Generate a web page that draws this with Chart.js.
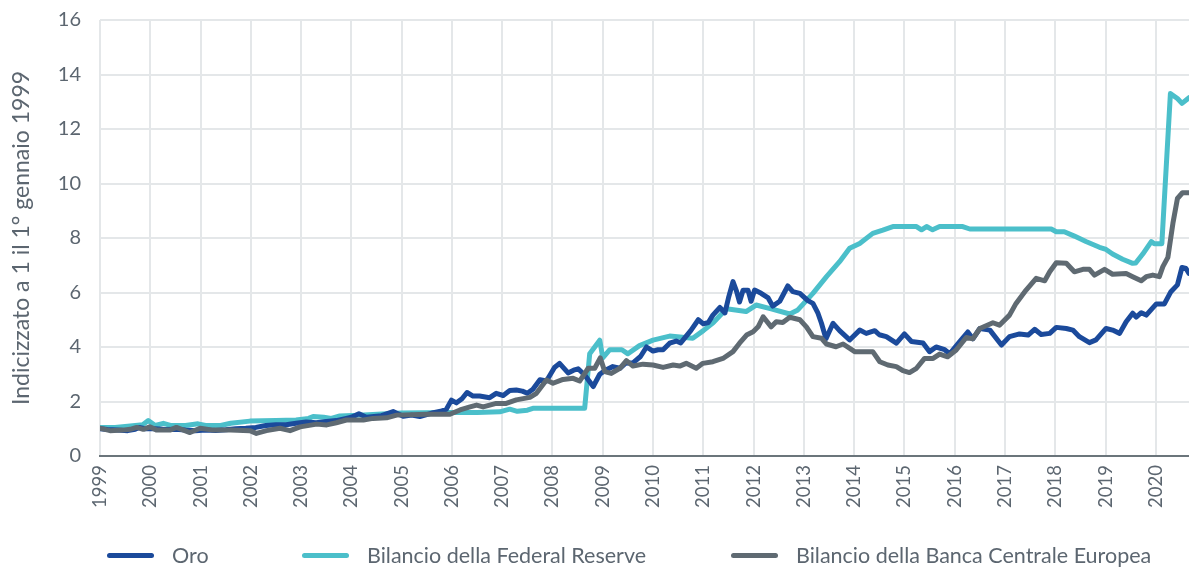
<!DOCTYPE html>
<html>
<head>
<meta charset="utf-8">
<script src="https://cdn.jsdelivr.net/npm/chart.js@4.4.1/dist/chart.umd.min.js"></script>
<style>
  html, body { margin: 0; padding: 0; background: #fff; }
  .wrap { position: relative; width: 1189px; height: 568px; font-family: Lato, 'Noto Sans', sans-serif; }
  .legend-item { position: absolute; top: 542px; display: flex; align-items: center; color: #5c6670; font-size: 21.5px; white-space: nowrap; }
  .legend-item .swatch { width: 47px; height: 5px; border-radius: 3px; margin-right: 18px; }
</style>
</head>
<body>
<div class="wrap">
  <canvas id="chart" width="1189" height="568"></canvas>
  <div id="legend"></div>
</div>
<script>
// anni delle etichette dell'asse x
const years = [1999,2000,2001,2002,2003,2004,2005,2006,2007,2008,2009,2010,2011,2012,2013,2014,2015,2016,2017,2018,2019,2020]

// Oro
const oroX = [1999.0,1999.15,1999.35,1999.55,1999.7,1999.78,1999.9,2000.1,2000.3,2000.5,2000.7,2000.9,2001.1,2001.3,2001.5,2001.7,2001.9,2002.1,2002.3,2002.5,2002.7,2002.9,2003.1,2003.3,2003.5,2003.7,2003.9,2004.0,2004.15,2004.3,2004.45,2004.6,2004.83,2005.03,2005.2,2005.36,2005.5,2005.63,2005.8,2005.89,2005.99,2006.09,2006.2,2006.3,2006.42,2006.55,2006.75,2006.88,2007.02,2007.15,2007.28,2007.4,2007.5,2007.61,2007.75,2007.88,2008.04,2008.14,2008.31,2008.42,2008.51,2008.64,2008.81,2008.94,2009.05,2009.2,2009.34,2009.45,2009.6,2009.75,2009.87,2010.0,2010.1,2010.2,2010.33,2010.46,2010.55,2010.66,2010.75,2010.9,2011.0,2011.1,2011.19,2011.33,2011.43,2011.5,2011.59,2011.66,2011.72,2011.79,2011.89,2011.95,2012.02,2012.15,2012.29,2012.38,2012.52,2012.68,2012.78,2012.92,2013.08,2013.18,2013.28,2013.35,2013.44,2013.58,2013.71,2013.91,2014.11,2014.24,2014.41,2014.5,2014.64,2014.84,2015.0,2015.14,2015.37,2015.5,2015.63,2015.8,2015.9,2016.1,2016.26,2016.36,2016.5,2016.7,2016.93,2017.09,2017.29,2017.46,2017.59,2017.72,2017.89,2018.02,2018.22,2018.35,2018.48,2018.68,2018.81,2019.01,2019.14,2019.28,2019.41,2019.54,2019.61,2019.71,2019.81,2020.01,2020.17,2020.3,2020.43,2020.52,2020.6,2020.66]
const oroY = [1.0,0.97,0.95,0.93,0.98,1.05,1.0,1.0,0.97,0.98,0.95,0.93,0.95,0.94,0.96,1.0,1.02,1.05,1.12,1.15,1.15,1.2,1.25,1.22,1.27,1.3,1.38,1.42,1.55,1.42,1.45,1.48,1.63,1.46,1.5,1.45,1.52,1.59,1.65,1.72,2.05,1.95,2.1,2.33,2.2,2.2,2.14,2.3,2.22,2.4,2.42,2.38,2.3,2.45,2.8,2.75,3.25,3.4,3.05,3.15,3.2,2.97,2.55,3.0,3.15,3.28,3.22,3.4,3.42,3.65,4.0,3.85,3.9,3.9,4.14,4.22,4.15,4.4,4.6,5.0,4.85,4.9,5.17,5.45,5.25,5.8,6.4,6.05,5.65,6.08,6.08,5.68,6.09,5.97,5.8,5.5,5.68,6.24,6.03,5.97,5.7,5.6,5.24,4.87,4.3,4.87,4.6,4.26,4.62,4.5,4.6,4.45,4.38,4.14,4.48,4.2,4.15,3.83,4.0,3.9,3.75,4.2,4.55,4.3,4.68,4.62,4.07,4.38,4.48,4.44,4.65,4.46,4.5,4.72,4.68,4.62,4.38,4.16,4.26,4.68,4.62,4.5,4.93,5.24,5.1,5.26,5.17,5.58,5.58,6.03,6.28,6.92,6.88,6.7]

// Bilancio della Federal Reserve
const fedX = [1999.0,1999.3,1999.6,1999.85,1999.96,2000.1,2000.26,2000.4,2000.7,2000.95,2001.1,2001.4,2001.6,2001.98,2002.5,2002.9,2003.15,2003.24,2003.45,2003.6,2003.77,2004.15,2004.7,2005.0,2005.9,2006.5,2006.95,2007.15,2007.3,2007.5,2007.61,2008.64,2008.74,2008.94,2009.0,2009.14,2009.38,2009.5,2009.73,2010.0,2010.33,2010.79,2011.0,2011.2,2011.46,2011.85,2012.05,2012.35,2012.72,2012.88,2013.18,2013.45,2013.71,2013.91,2014.11,2014.37,2014.57,2014.77,2015.24,2015.34,2015.44,2015.56,2015.7,2016.16,2016.3,2017.92,2018.02,2018.18,2018.38,2018.61,2018.88,2019.01,2019.14,2019.34,2019.54,2019.6,2019.74,2019.91,2019.97,2020.12,2020.29,2020.43,2020.52,2020.66]
const fedY = [1.05,1.05,1.1,1.15,1.3,1.12,1.2,1.12,1.12,1.18,1.12,1.12,1.2,1.28,1.3,1.32,1.38,1.45,1.42,1.38,1.47,1.5,1.55,1.58,1.6,1.6,1.62,1.72,1.64,1.68,1.75,1.75,3.75,4.25,3.6,3.9,3.9,3.75,4.05,4.25,4.4,4.32,4.6,4.9,5.4,5.3,5.54,5.4,5.21,5.36,5.97,6.58,7.13,7.62,7.8,8.17,8.29,8.42,8.42,8.3,8.42,8.3,8.42,8.42,8.33,8.33,8.23,8.23,8.07,7.87,7.66,7.58,7.41,7.22,7.07,7.08,7.41,7.87,7.79,7.79,13.3,13.12,12.94,13.15]

// Bilancio della Banca Centrale Europea
const bceX = [1999.0,1999.2,1999.45,1999.6,1999.73,1999.86,1999.99,2000.13,2000.39,2000.52,2000.79,2000.99,2001.25,2001.6,2001.98,2002.11,2002.31,2002.58,2002.78,2002.98,2003.31,2003.51,2003.7,2003.9,2004.24,2004.43,2004.7,2004.9,2005.5,2005.96,2006.16,2006.36,2006.49,2006.62,2006.88,2007.08,2007.28,2007.55,2007.68,2007.88,2008.01,2008.21,2008.41,2008.54,2008.71,2008.84,2008.95,2009.04,2009.17,2009.34,2009.47,2009.6,2009.8,2010.0,2010.2,2010.4,2010.53,2010.66,2010.86,2010.99,2011.19,2011.39,2011.59,2011.72,2011.86,2011.99,2012.09,2012.19,2012.35,2012.45,2012.58,2012.72,2012.92,2013.05,2013.18,2013.35,2013.45,2013.64,2013.78,2014.01,2014.37,2014.51,2014.67,2014.84,2014.97,2015.1,2015.24,2015.4,2015.57,2015.7,2015.86,2016.03,2016.23,2016.36,2016.5,2016.76,2016.89,2017.09,2017.22,2017.42,2017.62,2017.79,2017.89,2018.02,2018.22,2018.38,2018.55,2018.68,2018.78,2018.98,2019.14,2019.41,2019.54,2019.71,2019.81,2019.94,2020.07,2020.14,2020.24,2020.34,2020.43,2020.53,2020.66]
const bceY = [1.02,0.93,0.95,0.98,1.05,0.98,1.07,0.95,0.95,1.05,0.86,1.02,0.95,0.95,0.93,0.83,0.93,1.02,0.93,1.07,1.17,1.14,1.22,1.32,1.32,1.38,1.4,1.5,1.53,1.53,1.69,1.8,1.87,1.8,1.93,1.93,2.06,2.15,2.3,2.79,2.67,2.81,2.85,2.75,3.22,3.22,3.6,3.1,3.03,3.22,3.5,3.3,3.37,3.34,3.25,3.34,3.3,3.4,3.22,3.4,3.46,3.58,3.83,4.14,4.44,4.56,4.74,5.11,4.74,4.93,4.9,5.09,5.0,4.74,4.38,4.32,4.11,4.01,4.11,3.83,3.83,3.46,3.34,3.28,3.13,3.06,3.22,3.58,3.58,3.74,3.64,3.89,4.35,4.3,4.68,4.89,4.8,5.17,5.6,6.09,6.52,6.43,6.76,7.09,7.07,6.76,6.85,6.85,6.64,6.85,6.67,6.7,6.58,6.43,6.58,6.64,6.58,6.95,7.29,8.54,9.45,9.66,9.66]

const series = [
  { label: 'Oro', xs: oroX, ys: oroY, color: '#1b4a9b', order: 1, left: 107 },
  { label: 'Bilancio della Federal Reserve', xs: fedX, ys: fedY, color: '#4bbfca', order: 2, left: 302 },
  { label: 'Bilancio della Banca Centrale Europea', xs: bceX, ys: bceY, color: '#5f6a72', order: 0, left: 731 },
]

const textColor = '#5c6670'
const gridColor = '#e4e7e9'

new Chart(document.getElementById('chart').getContext('2d'), {
  type: 'line',
  data: {
    datasets: series.map(s => ({
      label: s.label,
      data: s.xs.map((x, i) => ({ x, y: s.ys[i] })),
      borderColor: s.color,
      borderWidth: 5,
      pointRadius: 0,
      tension: 0,
      borderJoinStyle: 'round',
      borderCapStyle: 'round',
      order: s.order,
    }))
  },
  options: {
    responsive: false,
    animation: false,
    layout: { padding: { top: 20, right: 0, bottom: 52, left: 0 } },
    plugins: { legend: { display: false }, tooltip: { enabled: false } },
    scales: {
      x: {
        type: 'linear',
        min: 1999, max: 2020.66,
        afterBuildTicks: scale => { scale.ticks = years.map(v => ({ value: v })) },
        afterFit: scale => { scale.height = 60 },
        ticks: { color: textColor, font: { family: 'Lato', size: 18.5 }, padding: 9, minRotation: 90, maxRotation: 90, callback: v => String(v) },
        grid: { color: gridColor, lineWidth: 2, drawTicks: false },
        border: { color: '#6b757b', width: 2 },
      },
      y: {
        min: 0, max: 16,
        // larghezza fissa, senza il margine extra sopra l'etichetta "16"
        afterFit: scale => { scale.width = 100; scale.paddingTop = 0; scale.paddingBottom = 0 },
        ticks: { stepSize: 2, color: textColor, font: { family: 'Lato', size: 20 }, padding: 19 },
        grid: { color: gridColor, lineWidth: 2, drawTicks: false },
        border: { display: false },
        title: { display: true, text: 'Indicizzato a 1 il 1° gennaio 1999', color: textColor, font: { family: 'Lato', size: 23 }, padding: { top: 8, bottom: 0 } },
      }
    }
  }
})

document.getElementById('legend').innerHTML = series.map(s => `
  <div class="legend-item" style="left:${s.left}px">
    <div class="swatch" style="background:${s.color}"></div>
    <span>${s.label}</span>
  </div>`).join('')
</script>
</body>
</html>
